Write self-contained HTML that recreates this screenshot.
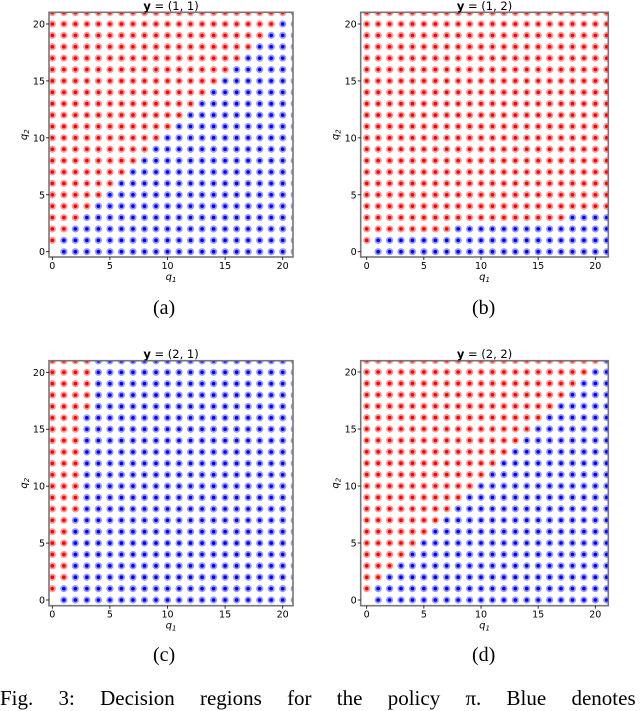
<!DOCTYPE html>
<html><head><meta charset="utf-8"><style>
body{margin:0;width:640px;height:699px;overflow:hidden;background:#fff;position:relative;font-family:"DejaVu Sans",sans-serif}
.cap{position:absolute;font-family:"Liberation Serif",serif;font-size:20px;color:#000}
</style></head><body>
<svg id="fig" width="640" height="699" style="position:absolute;left:0;top:0"></svg>
<div class="cap" style="left:153px;top:297px">(a)</div>
<div class="cap" style="left:472px;top:297px">(b)</div>
<div class="cap" style="left:153px;top:644px">(c)</div>
<div class="cap" style="left:472px;top:644px">(d)</div>
<div class="cap" style="left:0;top:686px;white-space:nowrap;word-spacing:20px;font-size:21px">Fig. 3: Decision regions for the policy π. Blue denotes</div>
<script>
// first blue q1 index per q2 row (0..21); q1 < threshold => red
const thresholdsA = [1,1,2,3,4,5,6,7,8,9,10,11,12,13,14,15,16,17,18,19,20,21];
const thresholdsB = [1,1,8,18,22,22,22,22,22,22,22,22,22,22,22,22,22,22,22,22,22,22];
const thresholdsC = [1,1,2,2,2,2,2,2,3,3,3,3,3,3,3,3,3,4,4,4,4,4];
const thresholdsD = [1,1,2,3,4,5,6,7,8,9,10,11,12,13,14,15,16,17,18,19,20,21];
const titles = ["(1, 1)","(1, 2)","(2, 1)","(2, 2)"];
const xTicks = [0,5,10,15,20];
const yTicks = [0,5,10,15,20];
const NS="http://www.w3.org/2000/svg";
const svg=document.getElementById('fig');
function mk(t,a,p){const e=document.createElementNS(NS,t);for(const k in a)e.setAttribute(k,a[k]);(p||svg).appendChild(e);return e;}
const panels=[
 {th:thresholdsA,l:49,r:293,t:12.3,b:257,x0:52.3,x20:282.7,y0:251.7,y20:24},
 {th:thresholdsB,l:360.7,r:608.3,t:12.3,b:257,x0:366.7,x20:595.3,y0:251.7,y20:24},
 {th:thresholdsC,l:49,r:293,t:360.7,b:605.7,x0:52.3,x20:282.7,y0:600,y20:372.3},
 {th:thresholdsD,l:360.7,r:608.3,t:360.7,b:605.7,x0:366.7,x20:595.3,y0:600,y20:372}
];
panels.forEach((P,i)=>{
 const g=mk('g',{});
 
 
 const sx=v=>P.x0+(P.x20-P.x0)*v/20, sy=v=>P.y0+(P.y20-P.y0)*v/20;
 const cid='clip'+i;
 const cp=mk('clipPath',{id:cid},g);mk('rect',{x:P.l,y:P.t,width:P.r-P.l,height:P.b-P.t},cp);
 const pts=mk('g',{'clip-path':'url(#'+cid+')'},g);
 for(let q2=0;q2<=21;q2++)for(let q1=0;q1<=21;q1++){
  if(q1===0&&q2===0)continue;
  const blue=q1>=P.th[q2];const c=blue?'#0000ff':'#ff0000';
  const m=mk('g',{},pts);
  
  
  mk('circle',{cx:sx(q1),cy:sy(q2),r:3.6,fill:c,'fill-opacity':0.4},m);
  mk('circle',{cx:sx(q1),cy:sy(q2),r:1.8,fill:c},m);
 }
 const f=mk('rect',{x:P.l,y:P.t,width:P.r-P.l,height:P.b-P.t,fill:'none',stroke:'#777',"stroke-width":1.6},g);
 
 xTicks.forEach(v=>{mk('line',{x1:sx(v),x2:sx(v),y1:P.b,y2:P.b+3,stroke:'#000','stroke-width':0.8},g);
  const t=mk('text',{x:sx(v),y:P.b+12,'font-size':9.5,'text-anchor':'middle'},g);t.textContent=v;
  });
 yTicks.forEach(v=>{mk('line',{x1:P.l-3,x2:P.l,y1:sy(v),y2:sy(v),stroke:'#000','stroke-width':0.8},g);
  const t=mk('text',{x:P.l-4,y:sy(v)+3.5,'font-size':9.5,'text-anchor':'end'},g);t.textContent=v;
  });
 const cx=(P.l+P.r)/2;
 const tt=mk('text',{x:cx,y:P.t-2.5,'font-size':11.5,'text-anchor':'middle'},g);
 tt.innerHTML='<tspan font-weight="bold">y</tspan> = '+titles[i];
 
 const xl=mk('text',{x:cx,y:P.b+23,'font-size':10,'text-anchor':'middle','font-style':'italic'},g);
 xl.innerHTML='q<tspan font-size="7" dy="2">1</tspan>';
 
 const ym=(P.t+P.b)/2, yx=P.l-22;
 const yl=mk('text',{x:yx,y:ym,'font-size':10,'text-anchor':'middle','font-style':'italic',transform:'rotate(-90 '+yx+' '+ym+')'},g);
 yl.innerHTML='q<tspan font-size="7" dy="2">2</tspan>';
 
});
</script>
</body></html>
